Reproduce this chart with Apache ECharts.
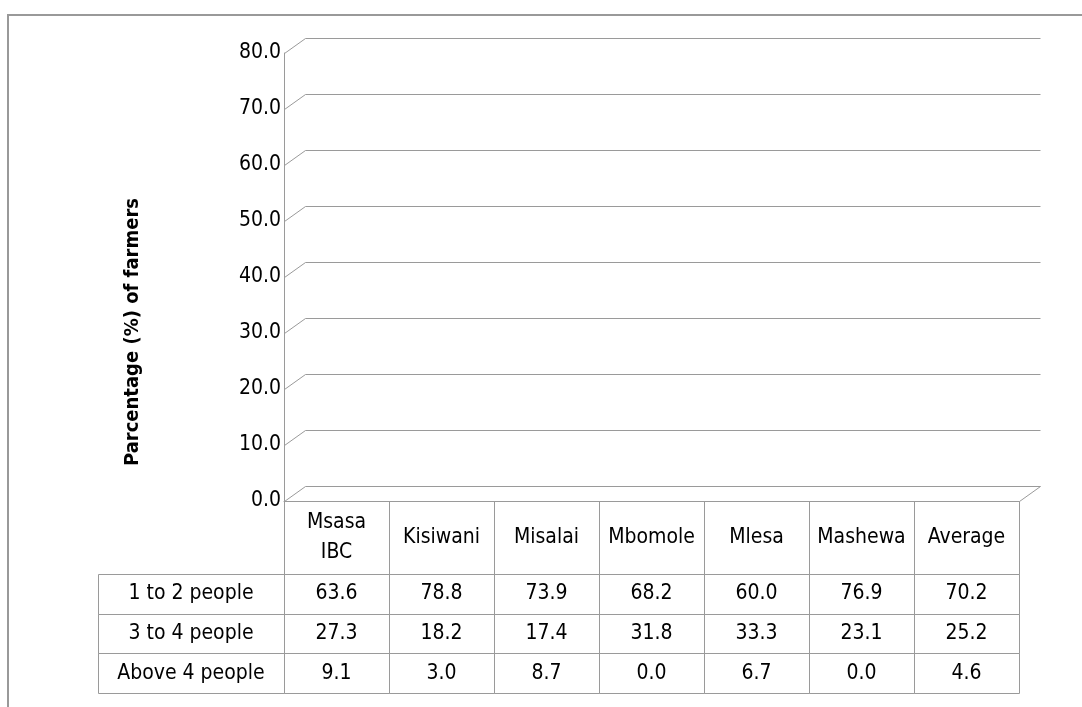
<!DOCTYPE html>
<html>
<head>
<meta charset="utf-8">
<script src="https://cdn.jsdelivr.net/npm/echarts@6/dist/echarts.min.js"></script>
<style>
html,body{margin:0;padding:0;background:#fff;}
#chart{width:1082px;height:707px;}
</style>
</head>
<body>
<div id="chart"></div>
<script>
const categories = ['Msasa\nIBC', 'Kisiwani', 'Misalai', 'Mbomole', 'Mlesa', 'Mashewa', 'Average'];
const seriesNames = ['1 to 2 people', '3 to 4 people', 'Above 4 people'];
const oneToTwo = [63.6, 78.8, 73.9, 68.2, 60.0, 76.9, 70.2];
const threeToFour = [27.3, 18.2, 17.4, 31.8, 33.3, 23.1, 25.2];
const aboveFour = [9.1, 3.0, 8.7, 0.0, 6.7, 0.0, 4.6];
const yTicks = [0, 10, 20, 30, 40, 50, 60, 70, 80];
const yAxisTitle = 'Parcentage (%) of farmers';

const FONT = '"DejaVu Sans Condensed", "DejaVu Sans", sans-serif';
const FS = 21;
const LINE = '#9a9a9a';
const DX = 21, DY = -15;

const rows = [oneToTwo, threeToFour, aboveFour];
const cellData = [];
rows.forEach((arr, r) => arr.forEach((v, c) => cellData.push([c, r, v])));

function px(v) { return Math.round(v) + 0.5; }
function cellRect(x0, y0, x1, y1) {
  const a = Math.round(x0), b = Math.round(y0), c = Math.round(x1), d = Math.round(y1);
  return { x: a + 0.5, y: b + 0.5, width: c - a, height: d - b };
}

const chart = echarts.init(document.getElementById('chart'));
chart.setOption({
  animation: false,
  backgroundColor: '#fff',
  grid: [
    { left: 284, right: 63, top: 53, bottom: 206 },
    { left: 284, right: 63, top: 574, bottom: 14 }
  ],
  xAxis: [
    { type: 'category', gridIndex: 0, data: categories, boundaryGap: true,
      axisLine: { show: true, lineStyle: { color: LINE, width: 1 } },
      axisTick: { show: false }, axisLabel: { show: false }, splitLine: { show: false } },
    { type: 'category', gridIndex: 1, data: categories, show: false }
  ],
  yAxis: [
    { type: 'value', gridIndex: 0, min: 0, max: 80, interval: 10,
      axisLine: { show: true, lineStyle: { color: LINE, width: 1 } },
      axisTick: { show: false }, splitLine: { show: false },
      axisLabel: { formatter: v => v.toFixed(1), color: '#000', fontSize: FS, fontFamily: FONT, margin: 3 } },
    { type: 'category', gridIndex: 1, data: seriesNames, inverse: true, show: false }
  ],
  graphic: [
    { type: 'rect', shape: { x: 8, y: 15, width: 1300, height: 900 },
      style: { fill: 'none', stroke: '#999', lineWidth: 2 }, silent: true },
    { type: 'text', x: 133, y: 332, rotation: Math.PI / 2,
      style: { text: yAxisTitle, align: 'center', verticalAlign: 'middle',
        fontSize: 20, fontWeight: 'bold', fontFamily: FONT, fill: '#000' } }
  ],
  series: [
    {
      type: 'custom', xAxisIndex: 0, yAxisIndex: 0,
      data: yTicks.map(v => [0, v]),
      encode: { x: 0, y: 1 },
      renderItem: function (params, api) {
        const cs = params.coordSys;
        const v = api.value(1);
        const y = px(api.coord([0, v])[1]);
        const x0 = px(cs.x), x1 = px(cs.x + cs.width);
        const children = [{
          type: 'polyline',
          shape: { points: [[x0, y], [x0 + DX, y + DY], [x1 + DX, y + DY]] },
          style: { fill: 'none', stroke: LINE, lineWidth: 1 }
        }];
        if (v === 0) {
          children.push({
            type: 'line',
            shape: { x1: x1, y1: y, x2: x1 + DX, y2: y + DY },
            style: { stroke: LINE, lineWidth: 1 }
          });
        }
        return { type: 'group', children: children };
      }
    },
    {
      type: 'custom', xAxisIndex: 1, yAxisIndex: 1,
      data: categories.map((c, i) => [i, 0]),
      encode: { x: 0, y: 1 },
      renderItem: function (params, api) {
        const cs = params.coordSys;
        const i = api.value(0);
        const cx = api.coord([i, 0])[0];
        const w = api.size([1, 1])[0];
        const top = 501;
        return {
          type: 'group', children: [
            { type: 'rect', shape: cellRect(cx - w / 2, top, cx + w / 2, cs.y),
              style: { fill: 'none', stroke: LINE, lineWidth: 1 } },
            { type: 'text', style: { text: categories[i], x: cx, y: (top + cs.y) / 2,
                align: 'center', verticalAlign: 'middle', fontSize: FS, fontFamily: FONT, fill: '#000', lineHeight: 30 } }
          ]
        };
      }
    },
    {
      type: 'custom', xAxisIndex: 1, yAxisIndex: 1,
      data: seriesNames.map((n, r) => [0, r]),
      encode: { x: 0, y: 1 },
      renderItem: function (params, api) {
        const cs = params.coordSys;
        const r = api.value(1);
        const cy = api.coord([0, r])[1];
        const h = api.size([1, 1])[1];
        const left = 98;
        return {
          type: 'group', children: [
            { type: 'rect', shape: cellRect(left, cy - h / 2, cs.x, cy + h / 2),
              style: { fill: 'none', stroke: LINE, lineWidth: 1 } },
            { type: 'text', style: { text: seriesNames[r], x: (left + cs.x) / 2, y: cy,
                align: 'center', verticalAlign: 'middle', fontSize: FS, fontFamily: FONT, fill: '#000' } }
          ]
        };
      }
    },
    {
      type: 'custom', xAxisIndex: 1, yAxisIndex: 1,
      data: cellData,
      encode: { x: 0, y: 1 },
      renderItem: function (params, api) {
        const c = api.value(0), r = api.value(1), v = api.value(2);
        const p = api.coord([c, r]);
        const s = api.size([1, 1]);
        return {
          type: 'group', children: [
            { type: 'rect', shape: cellRect(p[0] - s[0] / 2, p[1] - s[1] / 2, p[0] + s[0] / 2, p[1] + s[1] / 2),
              style: { fill: 'none', stroke: LINE, lineWidth: 1 } },
            { type: 'text', style: { text: v.toFixed(1), x: p[0], y: p[1],
                align: 'center', verticalAlign: 'middle', fontSize: FS, fontFamily: FONT, fill: '#000' } }
          ]
        };
      }
    }
  ]
});
</script>
</body>
</html>
